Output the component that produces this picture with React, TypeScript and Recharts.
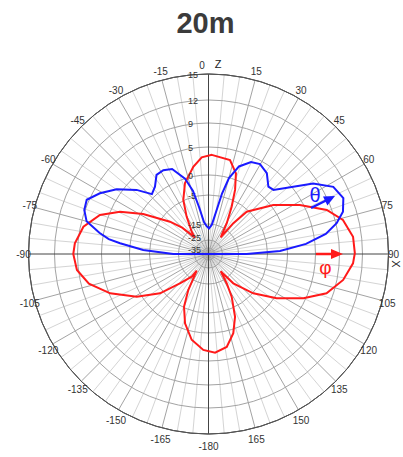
import React from 'react';
import { RadarChart, Radar, PolarGrid, PolarAngleAxis, PolarRadiusAxis } from 'recharts';

const W = 403;
const H = 457;
const CX = 208.5;
const CY = 254;
const R = 180;

// Radial scale of the plot (dB -> fraction of the outer radius), read from the ring positions
const scaleDb = [-45, -35, -25, -15, -5, 0, 5, 9, 12, 15];
const scaleFrac = [0, 0.0333, 0.0778, 0.1667, 0.3278, 0.4389, 0.5944, 0.7278, 0.8556, 1];

const radiusTicksDb = [15, 12, 9, 5, 0, -5, -15, -25, -35];
const angleTicks = [0, 15, 30, 45, 60, 75, 90, 105, 120, 135, 150, 165, 180, 195, 210, 225, 240, 255, 270, 285, 300, 315, 330, 345];

// phi pattern (red), angle in degrees clockwise from Z, gain in dB
const phiAngles = [1.9, 12.9, 18.8, 22.5, 26.1, 30.7, 34.8, 36.2, 38.9, 42.1, 52.9, 61.8, 69.6, 75.8, 83.2, 89.7, 93.7, 100.9, 108.4, 115, 123, 131.3, 139.8, 143.7, 144.8, 148.2, 151.5, 157.1, 162.6, 168.9, 176.2, 183.1, 191.1, 198.7, 204.9, 209.3, 215.2, 216.5, 224.2, 231, 239.3, 248.2, 256.1, 263.1, 270, 274.6, 282.3, 289.8, 295.5, 301.5, 310, 315, 320.5, 323, 329.7, 335, 341.6, 350.1, 356];
const phiDb = [3.6, 3.1, 1.1, -2.4, -7.2, -13.0, -19.3, -20.8, -11.7, -5.7, 0.4, 4.4, 8.2, 10.0, 10.9, 11.0, 10.8, 9.8, 7.9, 4.6, 0.4, -4.85, -12.1, -18.8, -20.5, -13.4, -8.6, -2.7, 0.7, 2.8, 3.55, 3.05, 1.5, -1.45, -5.3, -11.1, -21, -16.1, -11.2, -4.15, 0.8, 4.8, 7.7, 9.2, 9.55, 9.4, 8.5, 6.4, 3.4, -0.6, -8.0, -12.5, -20.5, -16.3, -10.4, -4.85, -1.1, 1.7, 3.2];

// theta pattern (blue), only the upper half-plane
const thetaAngles = [1.1, 6.3, 10.7, 12.6, 15.1, 19.2, 24.8, 29.8, 35.8, 41.6, 45.4, 51.6, 56, 61.7, 67.5, 72.5, 76.5, 80.3, 84.1, 87.6, 90, 270, 273.5, 276.9, 278.5, 281, 285, 289.5, 294, 299.2, 305.2, 311.7, 316.6, 321.5, 326.7, 331.7, 336.8, 342.7, 346.2, 348.6, 352, 355.9];
const thetaDb = [-17.8, -15.5, -9.55, -4.25, -0.1, 2.45, 4.0, 4.4, 3.7, 2.0, 2.2, 5.2, 8.2, 10.4, 10.95, 10.3, 9.1, 7.0, 3.4, -1.85, -12.2, -13.2, -3.4, 1.8, 3.9, 5.7, 8.2, 9.1, 9.3, 7.9, 5.9, 3.1, 0.6, 1.25, 2.8, 2.9, 2.4, 0.0, -3.5, -8.8, -14.2, -16.2];

function dbToFrac(db: number): number {
  if (db <= scaleDb[0]) return 0;
  for (let i = 1; i < scaleDb.length; i++) {
    if (db <= scaleDb[i]) {
      const t = (db - scaleDb[i - 1]) / (scaleDb[i] - scaleDb[i - 1]);
      return scaleFrac[i - 1] + t * (scaleFrac[i] - scaleFrac[i - 1]);
    }
  }
  return 1;
}

const radiusTicks = radiusTicksDb.map(dbToFrac);

const phiData = phiAngles.map((a, i) => ({ angle: a, phi: dbToFrac(phiDb[i]) }));
const thetaData = thetaAngles.map((a, i) => ({ angle: a, theta: dbToFrac(thetaDb[i]) }));

const minorAngles = Array.from({ length: 72 }, (_, i) => i * 5).filter((a) => a % 15 !== 0).map((a) => 90 - a);
const majorAngles = angleTicks.filter((a) => a % 90 !== 0).map((a) => 90 - a);
const mainAxes = [90, 0, -90, 180];

const FONT = '"Liberation Sans", Arial, sans-serif';

const AngleTick = (props: any) => {
  const { payload } = props;
  const v = Math.round(payload.value);
  if (v >= 360) return <g />;
  const rad = (payload.coordinate * Math.PI) / 180;
  const s = Math.sin(rad);
  const c = Math.cos(rad);
  let x = CX + 185 * c;
  const ry = s > 0 ? 189 : 192;
  const y = CY - (Math.abs(s) > 0.01 ? ry * s : 0);
  const label = v === 180 ? '-180' : v > 180 ? String(v - 360) : String(v);
  if (v === 0) x -= 6.5;
  return (
    <text x={x} y={y} textAnchor="middle" dominantBaseline="central" fontSize={10} fill="#333" fontFamily={FONT}>
      {label}
    </text>
  );
};

const RadiusTick = (props: any) => {
  const { y, payload } = props;
  let best = 0;
  for (let i = 0; i < radiusTicks.length; i++) {
    if (Math.abs(radiusTicks[i] - payload.value) < Math.abs(radiusTicks[best] - payload.value)) best = i;
  }
  const db = radiusTicksDb[best];
  const nudge = db === -25 ? -1.5 : db === -35 ? 2 : 1;
  return (
    <text x={CX - 20.5} y={y + nudge} textAnchor="start" dominantBaseline="central" fontSize={9} fill="#333" fontFamily={'"Liberation Sans Narrow", "Liberation Sans", Arial, sans-serif'}>
      {String(db)}
    </text>
  );
};

const chartProps = {
  width: W,
  height: H,
  cx: CX,
  cy: CY,
  outerRadius: R,
  startAngle: 90,
  endAngle: -270,
  margin: { top: 0, right: 0, bottom: 0, left: 0 },
};

export default function App() {
  return (
    <div style={{ position: 'absolute', left: 0, top: 0, width: W, height: H, background: '#fff' }}>
      <RadarChart {...chartProps} data={phiData}>
        <PolarGrid gridType="circle" polarAngles={minorAngles} polarRadius={[R]} innerRadius={dbToFrac(-15) * R} outerRadius={R} stroke="#d4d4d4" strokeWidth={1} />
        <PolarGrid gridType="circle" polarAngles={majorAngles} polarRadius={radiusTicks.slice(1).map((f) => f * R)} innerRadius={dbToFrac(-25) * R} outerRadius={R} stroke="#a3a3a3" strokeWidth={1} />
        <PolarGrid gridType="circle" polarAngles={mainAxes} polarRadius={[R]} innerRadius={0} outerRadius={R} stroke="#444" strokeWidth={1} />
        <PolarAngleAxis dataKey="angle" type="number" domain={[0, 360]} ticks={angleTicks} tickCount={25} tick={<AngleTick />} tickLine={false} axisLineType="circle" axisLine={{ stroke: '#555', strokeWidth: 1 }} />
        <PolarRadiusAxis type="number" domain={[0, 1]} ticks={radiusTicks} angle={90} axisLine={false} tick={<RadiusTick />} />
        <Radar dataKey="phi" stroke="#ff1a1a" strokeWidth={2} fill="none" fillOpacity={0} dot={false} isAnimationActive={false} />
      </RadarChart>
      <div style={{ position: 'absolute', left: 0, top: 0 }}>
        <RadarChart {...chartProps} data={thetaData}>
          <PolarAngleAxis dataKey="angle" type="number" domain={[0, 360]} ticks={angleTicks} tick={false} tickLine={false} axisLine={false} />
          <PolarRadiusAxis type="number" domain={[0, 1]} ticks={radiusTicks} tick={false} axisLine={false} />
          <Radar dataKey="theta" stroke="#1a1aff" strokeWidth={2} fill="none" fillOpacity={0} dot={false} isAnimationActive={false} />
        </RadarChart>
      </div>
      <svg width={W} height={H} style={{ position: 'absolute', left: 0, top: 0, pointerEvents: 'none' }}>
        <text x={205.5} y={33} textAnchor="middle" fontSize={29} fontWeight="bold" fill="#3b3b3b" fontFamily={FONT}>20m</text>
        <text x={218} y={63.5} textAnchor="middle" dominantBaseline="central" fontSize={11} fill="#222" fontFamily={FONT}>Z</text>
        <text x={396} y={264} textAnchor="middle" dominantBaseline="central" fontSize={11} fill="#222" fontFamily={FONT} transform="rotate(90 396 264)">X</text>
        <text x={315} y={202} textAnchor="middle" fontSize={20} fill="#1a1aff" fontFamily={FONT}>θ</text>
        <line x1={311} y1={208} x2={326} y2={200.5} stroke="#1a1aff" strokeWidth={2.5} />
        <polygon points="335,196 327.4,205.4 323,196.4" fill="#1a1aff" />
        <text x={325.5} y={274} textAnchor="middle" fontSize={19} fill="#ff1a1a" fontFamily={FONT}>φ</text>
        <line x1={316} y1={254} x2={332} y2={254} stroke="#ff1a1a" strokeWidth={2.5} />
        <polygon points="343,254 331,249 331,259" fill="#ff1a1a" />
      </svg>
    </div>
  );
}
